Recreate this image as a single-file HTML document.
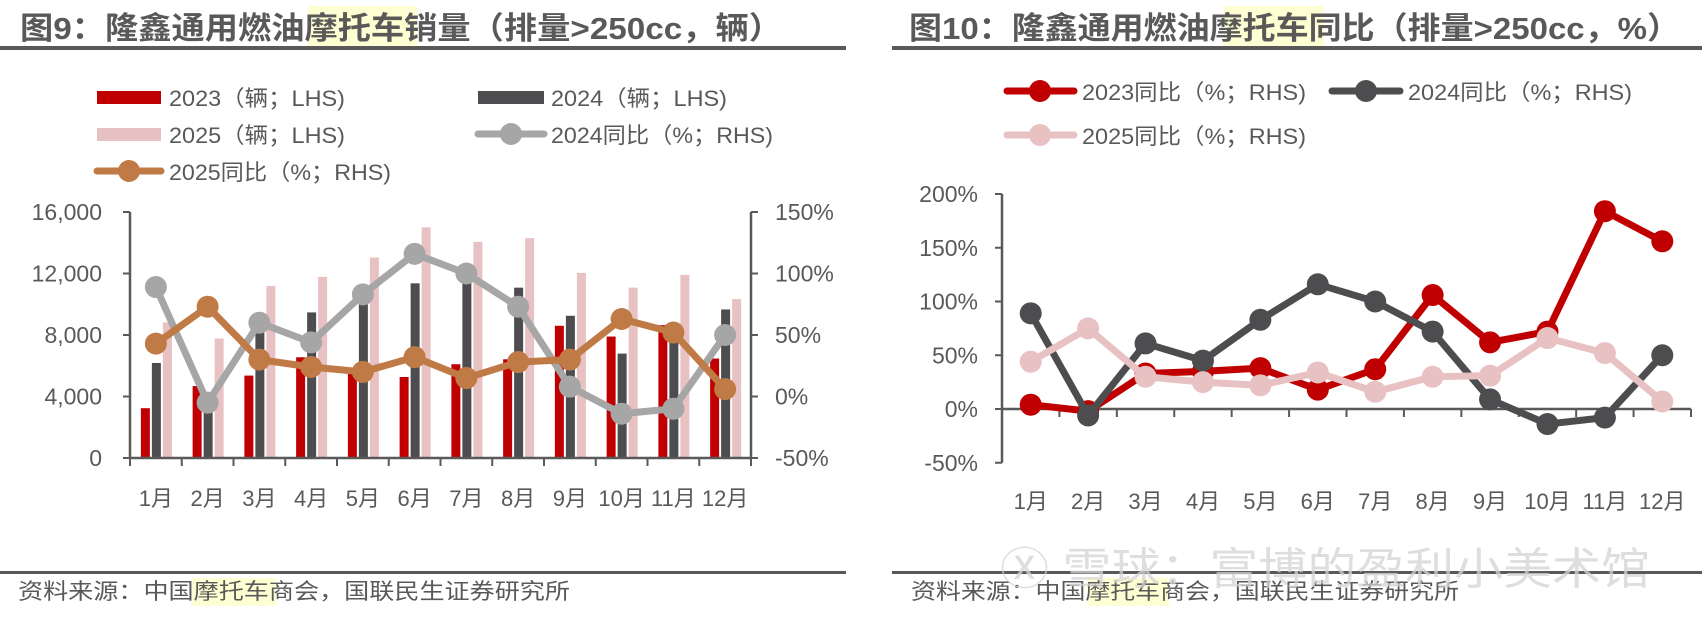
<!DOCTYPE html>
<html><head><meta charset="utf-8"><style>
html,body{margin:0;padding:0;background:#fff;}
svg{display:block;font-family:"Liberation Sans","Noto Sans CJK SC",sans-serif;}
</style></head><body>
<svg id="s" width="1702" height="626" viewBox="0 0 1702 626" xmlns="http://www.w3.org/2000/svg">
<g>
<rect x="308" y="6" width="109" height="41" fill="#ffffd4"/>
<text x="20" y="39" font-size="31" font-weight="bold" fill="#595959" textLength="762" lengthAdjust="spacingAndGlyphs">图9：隆鑫通用燃油摩托车销量（排量&gt;250cc，辆）</text>
<rect x="0" y="46" width="846" height="4" fill="#595959"/>
</g>
<g>
<rect x="1224" y="6" width="100" height="41" fill="#ffffd4"/>
<text x="909" y="39" font-size="31" font-weight="bold" fill="#595959" textLength="771" lengthAdjust="spacingAndGlyphs">图10：隆鑫通用燃油摩托车同比（排量&gt;250cc，%）</text>
<rect x="892" y="46" width="810" height="4" fill="#595959"/>
</g>
<g font-size="22" fill="#595959">
<rect x="97" y="91" width="64" height="13" fill="#c00000"/>
<text x="169" y="106" textLength="176" lengthAdjust="spacingAndGlyphs">2023（辆；LHS)</text>
<rect x="478" y="91" width="66" height="13" fill="#4d4d4f"/>
<text x="551" y="106" textLength="176" lengthAdjust="spacingAndGlyphs">2024（辆；LHS)</text>
<rect x="97" y="128" width="64" height="13" fill="#e8c1c3"/>
<text x="169" y="143" textLength="176" lengthAdjust="spacingAndGlyphs">2025（辆；LHS)</text>
<line x1="478" y1="134" x2="544" y2="134" stroke="#a6a6a6" stroke-width="7" stroke-linecap="round"/>
<circle cx="511" cy="134" r="11" fill="#a6a6a6"/>
<text x="551" y="143" textLength="222" lengthAdjust="spacingAndGlyphs">2024同比（%；RHS)</text>
<line x1="97" y1="171" x2="161" y2="171" stroke="#c07a45" stroke-width="7" stroke-linecap="round"/>
<circle cx="129" cy="171" r="11" fill="#c07a45"/>
<text x="169" y="180" textLength="222" lengthAdjust="spacingAndGlyphs">2025同比（%；RHS)</text>
</g>
<g font-size="22" fill="#595959">
<line x1="1007" y1="91" x2="1074" y2="91" stroke="#c00000" stroke-width="7" stroke-linecap="round"/>
<circle cx="1040" cy="91" r="11" fill="#c00000"/>
<text x="1082" y="100" textLength="224" lengthAdjust="spacingAndGlyphs">2023同比（%；RHS)</text>
<line x1="1332" y1="91" x2="1400" y2="91" stroke="#4d4d4f" stroke-width="7" stroke-linecap="round"/>
<circle cx="1366" cy="91" r="11" fill="#4d4d4f"/>
<text x="1408" y="100" textLength="224" lengthAdjust="spacingAndGlyphs">2024同比（%；RHS)</text>
<line x1="1007" y1="135" x2="1074" y2="135" stroke="#e8c1c3" stroke-width="7" stroke-linecap="round"/>
<circle cx="1040" cy="135" r="11" fill="#e8c1c3"/>
<text x="1082" y="144" textLength="224" lengthAdjust="spacingAndGlyphs">2025同比（%；RHS)</text>
</g>
<g id="L"></g>
<g id="R"></g>
<g>
<rect x="0" y="571" width="846" height="3" fill="#595959"/>
<rect x="892" y="571" width="810" height="3" fill="#595959"/>
<rect x="192" y="578" width="84" height="28" fill="#ffffd4"/>
<rect x="1087" y="578" width="82" height="28" fill="#ffffd4"/>
<text x="18" y="599" font-size="22" fill="#595959" textLength="552" lengthAdjust="spacingAndGlyphs">资料来源：中国摩托车商会，国联民生证券研究所</text>
<text x="911" y="599" font-size="22" fill="#595959" textLength="548" lengthAdjust="spacingAndGlyphs">资料来源：中国摩托车商会，国联民生证券研究所</text>
<text x="1000" y="584" font-size="44" fill="#d4d4d4" opacity="0.75" textLength="650" lengthAdjust="spacingAndGlyphs">Ⓧ 雪球：富博的盈利小美术馆</text>
</g>
</svg>
<script>
const months=["1月","2月","3月","4月","5月","6月","7月","8月","9月","10月","11月","12月"];
const sales2023=[3240,4680,5360,6550,5700,5270,6100,6420,8600,7900,8640,6470];
const sales2024=[6180,4000,8200,9470,10600,11360,12000,11080,9250,6790,8000,9660];
const sales2025=[8820,7770,11190,11780,13040,15000,14060,14300,12040,11080,11910,10340];
const yoyL2024=[89,-5,60,44,83,116,100,73,8,-14,-10,50];
const yoyL2025=[43,73,30,24,20,32,15,28,30,63,52,6];
const leftTicks=["0","4,000","8,000","12,000","16,000"];
const leftTickVals=[0,4000,8000,12000,16000];
const rightTicks=["-50%","0%","50%","100%","150%"];
const rightTickVals=[-50,0,50,100,150];
const yoyR2023=[4,-2,33,35,38,18,37,106,62,72,184,156];
const yoyR2024=[89,-6,61,45,83,116,100,72,9,-14,-8,50];
const yoyR2025=[44,75,30,25,22,34,16,30,31,66,52,7];
const rTicks=["-50%","0%","50%","100%","150%","200%"];
const rTickVals=[-50,0,50,100,150,200];

const NS="http://www.w3.org/2000/svg";
function mk(p,tag,at){const e=document.createElementNS(NS,tag);for(const k in at)e.setAttribute(k,at[k]);p.appendChild(e);return e;}

// Left chart
const L=document.getElementById('L');
const lx0=130,lx1=751,ly0=458,ly1=212;
const band=(lx1-lx0)/12;
const yL=v=>ly0-(v/16000)*(ly0-ly1);
const yR=v=>ly0-((v+50)/200)*(ly0-ly1);
const xc=i=>lx0+band*(i+0.5);
leftTickVals.forEach((v,i)=>{
 const t=mk(L,'text',{x:102,y:yL(v)+8,'text-anchor':'end','font-size':23,fill:'#595959'});t.textContent=leftTicks[i];
 
 
 const tk=mk(L,'line',{x1:lx0-7,x2:lx0,y1:yL(v),y2:yL(v),stroke:'#595959','stroke-width':2});
 
 
});
rightTickVals.forEach((v,i)=>{
 const t=mk(L,'text',{x:775,y:yR(v)+8,'font-size':23,fill:'#595959'});t.textContent=rightTicks[i];
 
 
 const tk=mk(L,'line',{x1:lx1,x2:lx1+7,y1:yR(v),y2:yR(v),stroke:'#595959','stroke-width':2});
 
 
});
months.forEach((m,i)=>{
 const b1=mk(L,'rect',{x:xc(i)-15,y:yL(sales2023[i]),width:9,height:ly0-yL(sales2023[i]),fill:'#c00000'});
 
 
 const b2=mk(L,'rect',{x:xc(i)-4,y:yL(sales2024[i]),width:9,height:ly0-yL(sales2024[i]),fill:'#4d4d4f'});
 
 
 const b3=mk(L,'rect',{x:xc(i)+7,y:yL(sales2025[i]),width:9,height:ly0-yL(sales2025[i]),fill:'#e8c1c3'});
 
 
 const t=mk(L,'text',{x:xc(i),y:506,'text-anchor':'middle','font-size':22,fill:'#595959'});t.textContent=m;
 
 
});
for(let i=0;i<=12;i++){
 const tk=mk(L,'line',{x1:lx0+band*i,x2:lx0+band*i,y1:ly0,y2:ly0+8,stroke:'#595959','stroke-width':2});
 
 
}
const la=mk(L,'line',{x1:lx0,x2:lx0,y1:ly1,y2:ly0,stroke:'#595959','stroke-width':2.5});


const ra=mk(L,'line',{x1:lx1,x2:lx1,y1:ly1,y2:ly0,stroke:'#595959','stroke-width':2.5});


const xa=mk(L,'line',{x1:lx0,x2:lx1,y1:ly0,y2:ly0,stroke:'#595959','stroke-width':2.5});


function series(p,data,yf,xf,col,name){
 const pl=mk(p,'polyline',{points:data.map((v,i)=>xf(i)+','+yf(v)).join(' '),fill:'none',stroke:col,'stroke-width':7,'stroke-linejoin':'round'});
 
 
 data.forEach((v,i)=>{
  const c=mk(p,'circle',{cx:xf(i),cy:yf(v),r:11,fill:col});
  
  
 });
}
series(L,yoyL2024,yR,xc,'#a6a6a6','yoy-2024');
series(L,yoyL2025,yR,xc,'#c07a45','yoy-2025');

// Right chart
const R=document.getElementById('R');
const rx0=1002,rx1=1691,ry0=409,ryTop=194;
const rb=(rx1-rx0)/12;
const yP=v=>ry0-(v/200)*(ry0-ryTop);
const xr=i=>rx0+rb*(i+0.5);
rTickVals.forEach((v,i)=>{
 const t=mk(R,'text',{x:978,y:yP(v)+8,'text-anchor':'end','font-size':23,fill:'#595959'});t.textContent=rTicks[i];
 
 
 const tk=mk(R,'line',{x1:rx0-7,x2:rx0,y1:yP(v),y2:yP(v),stroke:'#595959','stroke-width':2});
 
 
});
months.forEach((m,i)=>{
 const t=mk(R,'text',{x:xr(i),y:509,'text-anchor':'middle','font-size':22,fill:'#595959'});t.textContent=m;
 
 
});
for(let i=0;i<=12;i++){
 const tk=mk(R,'line',{x1:rx0+rb*i,x2:rx0+rb*i,y1:ry0,y2:ry0+8,stroke:'#595959','stroke-width':2});
 
 
}
const rya=mk(R,'line',{x1:rx0,x2:rx0,y1:ryTop,y2:yP(-50),stroke:'#595959','stroke-width':2.5});


const rxa=mk(R,'line',{x1:rx0,x2:rx1,y1:ry0,y2:ry0,stroke:'#595959','stroke-width':2.5});


series(R,yoyR2023,yP,xr,'#c00000','r-yoy-2023');
series(R,yoyR2024,yP,xr,'#4d4d4f','r-yoy-2024');
series(R,yoyR2025,yP,xr,'#e8c1c3','r-yoy-2025');
</script>
</body></html>
